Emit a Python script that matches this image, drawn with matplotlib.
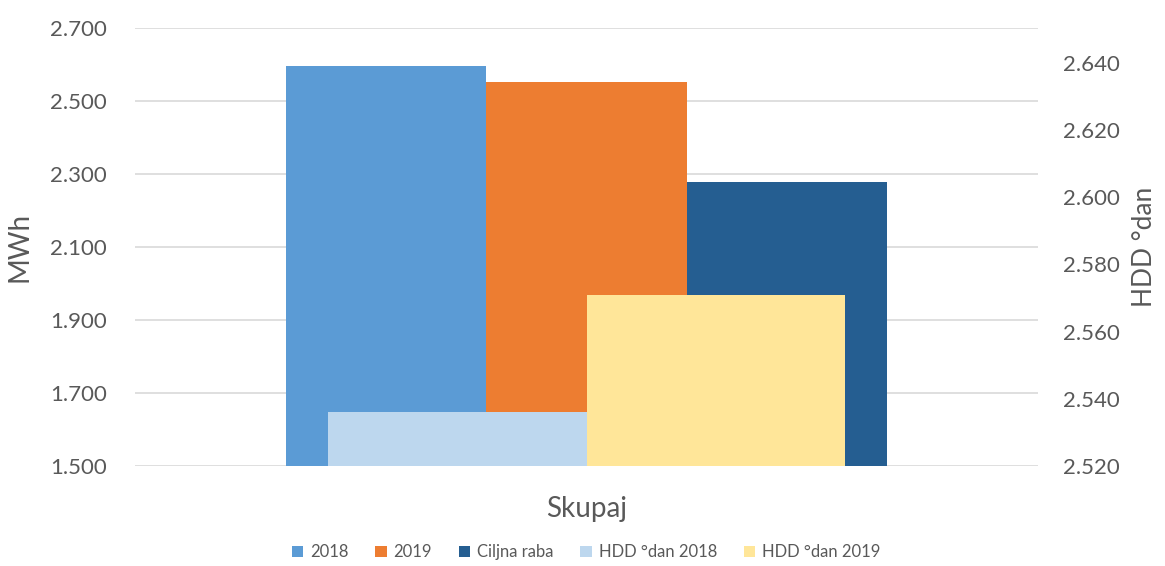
import matplotlib
matplotlib.use("Agg")
import matplotlib.pyplot as plt
from matplotlib.ticker import FuncFormatter, FixedLocator
from matplotlib.patches import Patch

plt.rcParams['font.family'] = ['Lato', 'DejaVu Sans']

category = "Skupaj"
primary_names = ["2018", "2019", "Ciljna raba"]
primary_values = [2596, 2553, 2279]
secondary_names = ["HDD °dan 2018", "HDD °dan 2019"]
secondary_values = [2536, 2571]
left_ticks = [1500, 1700, 1900, 2100, 2300, 2500, 2700]
right_ticks = [2520, 2540, 2560, 2580, 2600, 2620, 2640]

primary_colors = ["#5B9BD5", "#ED7D31", "#255E91"]
secondary_colors = ["#BDD7EE", "#FFE699"]

fmt = FuncFormatter(lambda v, p: f"{v:,.0f}".replace(",", "."))
tc = "#595959"

fig = plt.figure(figsize=(11.65, 5.66), dpi=100)
ax = fig.add_axes([0.1159, 0.1772, 0.7751, 0.7733])
ax2 = ax.twinx()

pw = 0.2222
for i, (n, v, c) in enumerate(zip(primary_names, primary_values, primary_colors)):
    ax.bar(0 + (i - 1) * pw, v - 1500, bottom=1500, width=pw, color=c, zorder=2)

sw = 0.286
for i, (n, v, c) in enumerate(zip(secondary_names, secondary_values, secondary_colors)):
    ax2.bar(0 + (i - 0.5) * sw, v - 2520, bottom=2520, width=sw, color=c, zorder=2)

ax.set_xlim(-0.5, 0.5)
ax.set_ylim(1500, 2700)
ax.yaxis.set_major_locator(FixedLocator(left_ticks))
ax.yaxis.set_major_formatter(fmt)
ax2.set_ylim(2520, 2650.5)
ax2.yaxis.set_major_locator(FixedLocator(right_ticks))
ax2.yaxis.set_major_formatter(fmt)

ax.grid(axis='y', color='#d9d9d9', linewidth=1.2, zorder=0)
ax.set_axisbelow(True)
for a in (ax, ax2):
    for s in a.spines.values():
        s.set_visible(False)
    a.tick_params(axis='y', length=0, labelsize=16, labelcolor=tc)
ax.tick_params(axis='y', pad=20)
ax2.tick_params(axis='y', pad=18)

ax.set_xticks([0])
ax.set_xticklabels([category], fontsize=20, color=tc)
ax.tick_params(axis='x', length=0, pad=22)

ax.set_ylabel("MWh", fontsize=20, color=tc, labelpad=13)
ax2.set_ylabel("HDD °dan", fontsize=19, color=tc, labelpad=9)

handles = [Patch(facecolor=c, label=n) for n, c in zip(primary_names + secondary_names, primary_colors + secondary_colors)]
fig.legend(handles=handles, loc='center', bbox_to_anchor=(0.503, 0.024), ncol=5,
           frameon=False, fontsize=12, labelcolor=tc, handlelength=0.7, handleheight=0.7,
           handletextpad=0.4, columnspacing=1.6)

fig.savefig("out.png", dpi=100)
